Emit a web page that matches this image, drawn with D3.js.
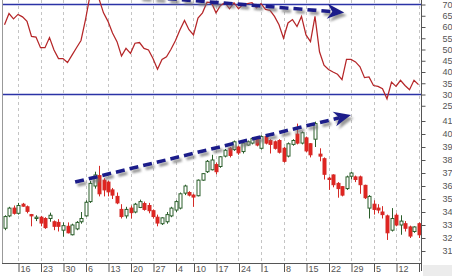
<!DOCTYPE html>
<html>
<head>
<meta charset="utf-8">
<script src="https://cdn.jsdelivr.net/npm/d3@7"></script>
<style>
body{margin:0;background:#fff}
svg{display:block;font-family:"Liberation Sans",Arial,sans-serif}
</style>
</head>
<body>
<div id="chart"></div>
<script>
(function(){
var width = 452,
	height = 276,
	left = 2,
	right = 421,
	bottom = 263;

// trading calendar (Labor Day skipped)
var firstDay = "2007-07-11",
	lastDay = "2007-11-19",
	holidays = ["2007-09-03"];

var open = [32.75,33.7,34.3,33.9,34.6,34.4,33.8,33.5,33.6,33.5,
	33.5,33.25,33.2,32.6,32.9,32.25,32.7,33.25,33.7,34.8,
	36.0,36.8,36.45,36.3,35.7,35.2,34.2,33.7,34.3,34.0,
	34.35,34.65,34.5,34.1,33.6,33.1,33.25,33.7,34.15,34.3,
	35.45,35.5,35.3,35.25,36.45,37.1,37.25,37.65,37.5,38.3,
	38.9,38.8,39.0,38.65,39.15,39.3,39.6,38.9,39.8,39.5,
	39.4,39.5,38.9,38.3,39.2,40.0,39.3,39.7,39.25,39.6,
	38.45,38.1,36.6,36.85,36.2,35.95,35.8,36.75,36.7,36.7,
	36.05,34.3,34.6,34.3,34.0,33.7,32.6,33.75,33.0,33.1,
	32.85,32.5,33.1];
var high = [33.75,34.4,34.5,34.7,34.7,34.5,33.85,33.75,33.7,33.6,
	33.95,33.35,33.45,33.2,33.2,33.1,33.3,34.0,34.9,36.4,
	37.1,37.55,36.6,36.4,35.85,35.5,34.6,34.4,34.5,34.7,
	34.95,34.8,34.7,34.2,33.8,33.6,34.0,34.4,34.9,35.5,
	36.1,35.6,35.4,36.5,37.0,38.0,38.4,37.8,38.3,38.85,
	39.0,39.5,39.1,39.35,39.5,39.75,39.7,39.9,39.9,39.6,
	39.5,39.6,39.0,39.35,39.6,40.8,40.2,39.8,39.3,40.95,
	38.9,38.2,36.7,36.9,36.3,36.0,36.8,37.1,36.8,36.8,
	36.1,35.3,34.9,34.6,34.45,33.8,34.3,33.9,33.75,33.3,
	32.95,32.9,33.2];
var low = [32.6,33.6,33.8,33.8,34.4,33.9,32.9,33.3,32.9,32.7,
	33.25,32.6,32.5,32.1,32.35,32.2,32.6,33.1,33.65,34.7,
	35.8,35.2,35.2,35.2,35.0,34.6,33.5,33.5,33.5,33.9,
	34.3,34.1,33.9,33.5,32.9,33.0,33.1,33.6,34.0,34.2,
	35.3,35.2,34.4,35.2,36.4,37.0,37.2,36.9,37.4,38.2,
	38.2,38.7,38.4,38.5,39.1,39.2,39.05,38.8,39.2,38.5,
	38.8,38.5,37.8,38.2,39.1,39.2,39.2,38.6,38.2,39.0,
	37.9,36.5,35.7,35.9,35.1,35.2,35.7,36.5,36.3,35.4,
	35.0,33.5,33.8,33.9,33.5,31.85,32.5,32.9,32.25,32.5,
	32.0,32.4,32.0];
var close = [33.65,34.3,33.9,34.5,34.45,34.05,33.7,33.6,33.15,32.8,
	33.75,32.9,32.9,32.95,32.4,33.0,33.2,33.5,34.75,36.2,
	36.85,35.4,35.7,35.55,35.3,34.7,33.65,34.2,33.95,34.6,
	34.8,34.2,34.1,33.65,33.15,33.55,33.8,34.3,34.8,35.4,
	36.0,35.3,35.15,36.45,36.95,37.9,38.0,37.1,38.25,38.75,
	38.35,39.4,38.55,39.3,39.4,39.65,39.15,39.8,39.3,39.2,
	38.9,38.6,37.9,39.25,39.5,39.3,40.1,38.7,38.4,40.8,
	38.3,36.9,36.5,36.1,35.8,35.3,36.7,37.0,36.5,36.1,
	35.1,35.2,34.2,34.15,33.8,32.4,33.5,33.0,33.3,32.75,
	32.15,32.85,32.25];
var rsi = [61.0,66.0,63.6,65.6,64.5,62.5,55.8,55.5,50.8,50.8,
	55.3,49.8,46.0,46.0,44.2,47.5,50.8,54.0,63.3,74.0,
	77.0,72.5,66.3,62.5,57.3,53.5,47.1,50.5,48.3,52.8,
	53.1,50.5,49.8,46.0,41.2,45.6,46.8,50.1,54.0,58.8,
	62.9,58.8,56.5,64.0,66.3,71.0,70.8,66.3,69.6,70.8,
	68.1,70.8,68.1,70.0,70.4,70.8,68.5,70.4,67.8,67.4,
	64.7,61.0,55.0,61.8,63.3,60.2,64.7,56.5,53.5,64.7,
	49.0,43.0,41.1,40.0,39.0,36.6,45.6,45.6,44.5,42.3,
	37.5,37.8,34.0,33.6,32.6,28.1,35.5,33.6,36.3,34.0,
	32.1,36.3,34.4];

var rsiTicks = [70,65,60,55,50,45,40,35,30,25],
	rsiLevels = [70,30],
	priceTicks = [41,40,39,38,37,36,35,34,33,32,31];

// trend arrows: [day index, value]
var rsiArrow = [[30.1,73.6],[75.5,66.4]],
	priceArrow = [[15.7,36.3],[77,41.46]];

var parse = d3.timeParse("%Y-%m-%d");
var days = d3.timeDay.range(parse(firstDay), d3.timeDay.offset(parse(lastDay),1))
	.filter(function(d){ return d.getDay()>0 && d.getDay()<6 && holidays.indexOf(d3.timeFormat("%Y-%m-%d")(d))<0; });

var weekTicks = d3.range(1,days.length).filter(function(i){
	return +d3.timeMonday.floor(days[i]) != +d3.timeMonday.floor(days[i-1]);
});

var X = d3.scaleLinear().domain([0,days.length-1]).range([4.5,4.5+(days.length-1)*4.5]);
var P = d3.scaleLinear().domain([31,41]).range([251,121]);
var R = d3.scaleLinear().domain([30,70]).range([94.5,4.5]);

var svg = d3.select("#chart").append("svg")
	.attr("width",width)
	.attr("height",height);

var defs = svg.append("defs");
defs.append("filter").attr("id","shadow").attr("x","-20%").attr("y","-50%").attr("width","140%").attr("height","250%")
	.append("feDropShadow").attr("dx",2.5).attr("dy",3).attr("stdDeviation",1.3)
	.attr("flood-color","#777").attr("flood-opacity",0.75);

svg.append("rect").attr("width",width).attr("height",height).attr("fill","#fff");

// grid
svg.append("g").selectAll("line").data(weekTicks).enter().append("line")
	.attr("x1",function(i){return Math.round(X(i))+0.5}).attr("x2",function(i){return Math.round(X(i))+0.5})
	.attr("y1",0).attr("y2",bottom)
	.attr("stroke","#c4c4c4").attr("stroke-dasharray","3,3");

// rsi levels
svg.append("g").selectAll("line").data(rsiLevels).enter().append("line")
	.attr("x1",left).attr("x2",right)
	.attr("y1",function(d){return R(d)}).attr("y2",function(d){return R(d)})
	.attr("stroke","#2b33a6").attr("stroke-width",1.3);

// rsi line
svg.append("path").datum(rsi)
	.attr("fill","none").attr("stroke","#b52628").attr("stroke-width",1.25)
	.attr("d",d3.line().x(function(d,i){return X(i)}).y(function(d){return R(d)}));

// candles
var candles = svg.append("g").selectAll("g").data(days).enter().append("g");
candles.append("line")
	.attr("x1",function(d,i){return Math.round(X(i))+0.5}).attr("x2",function(d,i){return Math.round(X(i))+0.5})
	.attr("y1",function(d,i){return P(high[i])}).attr("y2",function(d,i){return P(low[i])})
	.attr("stroke",function(d,i){return close[i]>=open[i] ? "#2a5e2a" : "#d42a26"});
candles.append("rect")
	.attr("x",function(d,i){return Math.round(X(i))-1})
	.attr("width",3)
	.attr("y",function(d,i){return P(Math.max(open[i],close[i]))})
	.attr("height",function(d,i){return Math.max(1,Math.abs(P(open[i])-P(close[i])))})
	.attr("fill",function(d,i){return close[i]>=open[i] ? "#fff" : "#e3231f"})
	.attr("stroke",function(d,i){return close[i]>=open[i] ? "#2a5e2a" : "#d42a26"});

// arrows
function arrow(pts,yScale){
	var x1 = X(pts[0][0]), y1 = yScale(pts[0][1]), x2 = X(pts[1][0]), y2 = yScale(pts[1][1]);
	var len = Math.sqrt((x2-x1)*(x2-x1)+(y2-y1)*(y2-y1));
	var ux = (x2-x1)/len, uy = (y2-y1)/len, nx = -uy, ny = ux;
	var L = 17, W = 7.5, N = 5;
	var g = svg.append("g").attr("filter","url(#shadow)");
	g.append("line")
		.attr("x1",x1).attr("y1",y1)
		.attr("x2",x2-ux*(L-N)).attr("y2",y2-uy*(L-N))
		.attr("stroke","#1b1f8a").attr("stroke-width",3.6).attr("stroke-dasharray","9,5");
	g.append("path")
		.attr("d","M"+x2+","+y2+"L"+(x2-ux*L+nx*W)+","+(y2-uy*L+ny*W)+"L"+(x2-ux*(L-N))+","+(y2-uy*(L-N))
			+"L"+(x2-ux*L-nx*W)+","+(y2-uy*L-ny*W)+"Z")
		.attr("fill","#1b1f8a");
}
arrow(rsiArrow,R);
arrow(priceArrow,P);

// frame
svg.append("line").attr("x1",left+0.5).attr("x2",left+0.5).attr("y1",0).attr("y2",bottom).attr("stroke","#999");
svg.append("line").attr("x1",left).attr("x2",right).attr("y1",bottom+0.5).attr("y2",bottom+0.5).attr("stroke","#555");
svg.append("line").attr("x1",right+0.5).attr("x2",right+0.5).attr("y1",0).attr("y2",bottom+8).attr("stroke","#555");

// right axes
function rightAxis(scale,major,minor){
	var g = svg.append("g").attr("transform","translate("+(right+0.5)+",0)");
	g.call(d3.axisRight(scale).tickValues(minor).tickSize(2).tickFormat(""));
	g.call(d3.axisRight(scale).tickValues(major).tickSize(4).tickPadding(17).tickFormat(d3.format("d")));
	g.selectAll(".domain").remove();
	g.selectAll("line").attr("stroke","#555");
	g.selectAll("text").attr("fill","#555").attr("font-size","9px").attr("font-family","Liberation Sans, Arial, sans-serif");
}
rightAxis(R,rsiTicks,d3.range(25,71,1));
rightAxis(P,priceTicks,d3.range(31,41.01,0.5));

// date axis (the last week's label falls under the corner block)
var xa = svg.append("g").attr("transform","translate(0,"+bottom+")")
	.call(d3.axisBottom(X).tickValues(weekTicks).tickSize(9).tickFormat(function(i){return X(i)<right-10 ? days[i].getDate() : ""}));
xa.selectAll(".domain").remove();
xa.selectAll("line").attr("stroke","#555").attr("transform","translate(0.5,0)");
xa.selectAll("text").attr("text-anchor","start").attr("x",2).attr("y",3).attr("dy","0.71em")
	.attr("fill","#555").attr("font-size","9px").attr("font-family","Liberation Sans, Arial, sans-serif");

svg.append("rect").attr("x",right+2).attr("y",bottom+2).attr("width",width-right-2).attr("height",height-bottom-2).attr("fill","#ececec");

})()
</script>
</body>
</html>
